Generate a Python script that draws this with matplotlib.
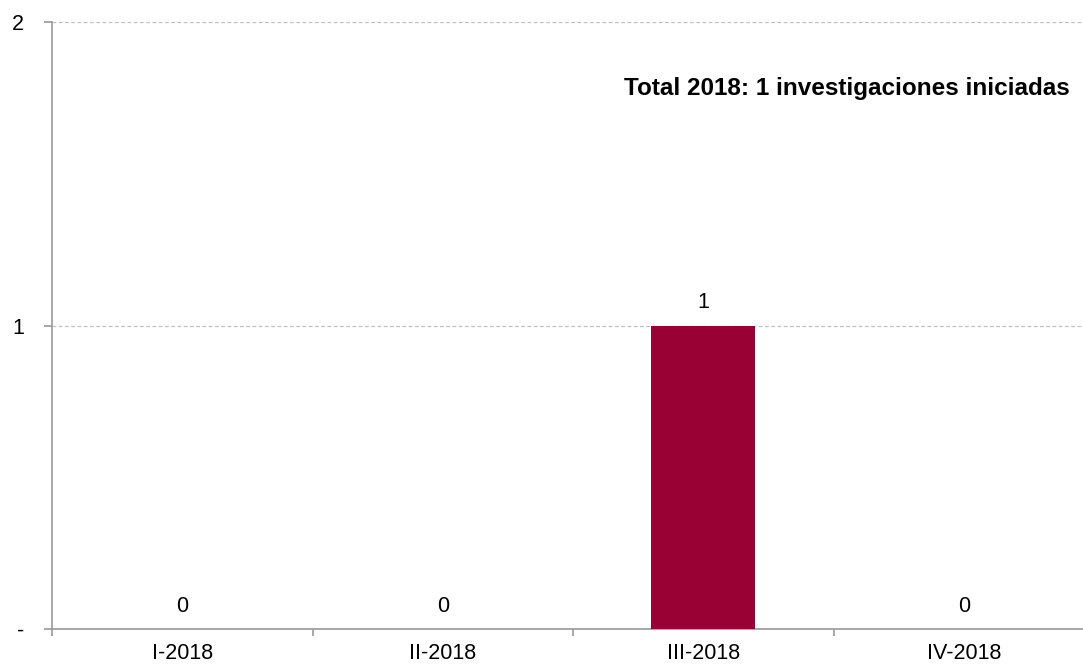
import matplotlib
matplotlib.use("Agg")
import matplotlib.pyplot as plt
import numpy as np

plt.rcParams['font.family'] = ['Liberation Sans', 'DejaVu Sans']

categories = ["I-2018", "II-2018", "III-2018", "IV-2018"]
values = [0, 0, 1, 0]
ytick_labels = ["-", "1", "2"]
annotation = "Total 2018: 1 investigaciones iniciadas"

fig = plt.figure(figsize=(10.83, 6.69), dpi=100)
ax = fig.add_axes([52/1083, 40/669, (1094-52)/1083, (629-22)/669])

x = np.arange(len(categories))
ax.bar(x, values, width=0.4, color="#990033", zorder=3)
for xi, v in zip(x, values):
    ax.text(xi, v + 0.04, f"{v}", ha="center", va="bottom", fontsize=15.5, color="black")

ax.set_xlim(-0.5, len(categories) - 0.5)
ax.set_ylim(0, 2)
ax.set_yticks([0, 1, 2])
ax.set_yticklabels(ytick_labels, fontsize=15.5)
ax.set_xticks(x)
ax.set_xticklabels(categories, fontsize=15.5)
ax.tick_params(axis="x", length=0, pad=10)
ax.set_xticks(np.arange(len(categories) + 1) - 0.5, minor=True)
ax.tick_params(axis="x", which="minor", length=5, color="#999999", width=1.2)
ax.tick_params(axis="y", length=6, color="#999999", width=1.2, pad=14)

ax.grid(axis="y", linestyle=(0, (3, 2)), color="#c0c0c0", linewidth=0.9, zorder=0)
for s in ["top", "right"]:
    ax.spines[s].set_visible(False)
for s in ["left", "bottom"]:
    ax.spines[s].set_color("#999999")
    ax.spines[s].set_linewidth(1.2)

fig.text(1070/1083, 1 - 88/669, annotation, ha="right", va="center",
         fontsize=17.5, fontweight="bold")

fig.savefig("out.png", dpi=100)
